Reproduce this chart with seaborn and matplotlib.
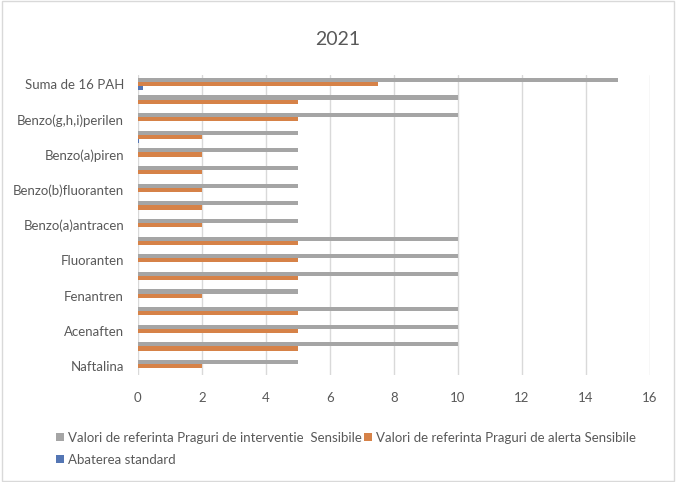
import numpy as np
import pandas as pd
import matplotlib.pyplot as plt
import seaborn as sns
from matplotlib.patches import Rectangle

# ===============================
# Data (top to bottom, as in the chart)
# ===============================
categories = ["Suma de 16 PAH", "Indeno(1,2,3-cd)piren", "Benzo(g,h,i)perilen",
              "Dibenzo(a,h)antracen", "Benzo(a)piren", "Benzo(k)fluoranten",
              "Benzo(b)fluoranten", "Crisen", "Benzo(a)antracen", "Piren",
              "Fluoranten", "Antracen", "Fenantren", "Fluoren", "Acenaften",
              "Acenaftilena", "Naftalina"]
interventie = [15, 10, 10, 5, 5, 5, 5, 5, 5, 10, 10, 10, 5, 10, 10, 10, 5]
alerta = [7.5, 5, 5, 2, 2, 2, 2, 2, 2, 5, 5, 5, 2, 5, 5, 5, 2]
abatere = [0.15, 0, 0, 0.03, 0, 0, 0, 0, 0, 0, 0, 0, 0, 0, 0, 0, 0]

series_names = ["Valori de referinta Praguri de interventie  Sensibile",
                "Valori de referinta Praguri de alerta Sensibile",
                "Abaterea standard"]
colors = ["#A5A5A5", "#ED7D31", "#4472C4"]
x_ticks = [0, 2, 4, 6, 8, 10, 12, 14, 16]

df = pd.DataFrame({
    "Compus": categories * 3,
    "Valoare": interventie + alerta + abatere,
    "Serie": [series_names[0]] * len(categories)
             + [series_names[1]] * len(categories)
             + [series_names[2]] * len(categories),
})

# ===============================
# Plot
# ===============================
sns.set_style("white")
plt.rcParams["font.family"] = ["Lato", "DejaVu Sans"]
text_color = "#595959"

fig = plt.figure(figsize=(6.76, 4.82), dpi=100)
ax = fig.add_axes([0.204, 0.222, 0.7575, 0.622])

sns.barplot(data=df, x="Valoare", y="Compus", hue="Serie",
            order=categories, hue_order=series_names,
            palette=colors, width=0.7, orient="h", ax=ax,
            edgecolor="none", linewidth=0, legend=True)

ax.set_xlim(0, 16)
ax.set_xticks(x_ticks)
ax.set_xticklabels([str(t) for t in x_ticks], fontsize=9.5, color=text_color)
ax.set_yticks(range(0, len(categories), 2))
ax.set_yticklabels(categories[::2], fontsize=9.5, color=text_color)
ax.tick_params(axis="y", length=0, pad=10)
ax.tick_params(axis="x", length=0, pad=12)
ax.xaxis.grid(True, color="#D9D9D9", linewidth=1)
ax.set_axisbelow(True)
for s in ax.spines.values():
    s.set_visible(False)
ax.set_xlabel("")
ax.set_ylabel("")
fig.suptitle("2021", x=0.5, y=0.935, fontsize=14, color=text_color)

# legend below the chart, Excel style
handles, labels = ax.get_legend_handles_labels()
ax.get_legend().remove()
order = [0, 2, 1]
fig.legend([handles[i] for i in order], [labels[i] for i in order],
           loc="upper left", bbox_to_anchor=(0.075, 0.115), ncol=2,
           frameon=False, fontsize=9.5, labelcolor=text_color,
           handlelength=0.6, handleheight=0.6, handletextpad=0.3,
           columnspacing=0.2, labelspacing=0.75, borderaxespad=0)

# chart-area border
fig.patches.append(Rectangle((0.003, 0.003), 0.994, 0.994, transform=fig.transFigure,
                             fill=False, edgecolor="#D9D9D9", linewidth=1))

fig.savefig("out.png", dpi=100)
